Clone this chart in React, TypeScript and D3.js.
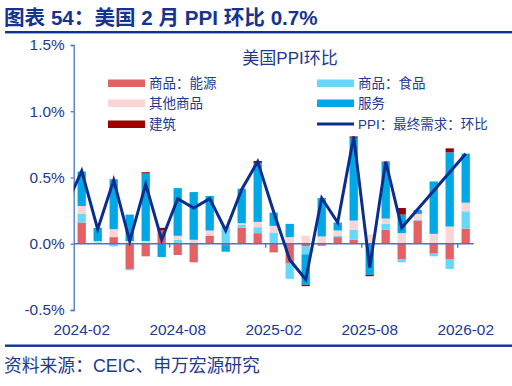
import React, { useEffect, useRef } from 'react';
import * as d3 from 'd3';

// 月份（2024-01 只给折线用，画在坐标轴左边之外，会被裁掉）
const lineMonths = ['2024-01', '2024-02', '2024-03', '2024-04', '2024-05', '2024-06', '2024-07', '2024-08', '2024-09', '2024-10', '2024-11', '2024-12',
    '2025-01', '2025-02', '2025-03', '2025-04', '2025-05', '2025-06', '2025-07', '2025-08', '2025-09', '2025-10', '2025-11', '2025-12',
    '2026-01', '2026-02'];
const months = lineMonths.slice(1);
const tickLabels = ['2024-02', '2024-08', '2025-02', '2025-08', '2026-02'];

// 分项拉动（百分点）
const energy = [0.16, 0.00, 0.05, -0.19, -0.095, 0.10, -0.085, -0.14, 0.06, -0.01, 0.12, 0.08, -0.065, -0.15, -0.02, -0.015, 0.05, 0.03, 0.00, 0.105, -0.115, 0.175, -0.075, -0.115, 0.115];
const food = [0.065, 0.01, -0.02, -0.01, 0.01, 0.00, 0.03, 0.01, 0.00, 0.13, 0.025, 0.045, 0.085, -0.115, -0.06, 0.00, 0.01, 0.075, 0.00, 0.045, -0.025, 0.005, -0.02, -0.075, 0.13];
const otherGoods = [0.06, 0.01, 0.06, 0.02, 0.01, 0.00, 0.03, 0.02, 0.04, 0.00, 0.01, 0.04, 0.05, 0.05, 0.06, 0.055, 0.04, 0.07, 0.07, 0.04, 0.08, 0.045, 0.075, 0.13, 0.065];
const services = [0.26, 0.10, 0.37, 0.20, 0.51, -0.10, 0.36, 0.36, 0.26, -0.05, 0.26, 0.445, 0.10, 0.10, -0.23, 0.29, 0.06, 0.625, -0.235, 0.425, 0.14, 0.03, 0.395, 0.56, 0.37];
const construction = [0, 0, 0.005, 0, 0.01, 0.02, 0, 0, 0, 0, 0, 0.015, 0, 0, -0.01, 0, 0, 0.01, -0.01, 0.005, 0.05, 0, 0, 0.03, 0];
// PPI：最终需求：环比（%），空值处直接连线
const ppi = [0.28, 0.55, 0.11, 0.48, 0.02, 0.45, 0.03, 0.34, 0.27, 0.34, 0.10, 0.41, 0.62, 0.24, -0.12, -0.27, 0.345, 0.16, 0.81, -0.18, 0.62, 0.12, null, null, null, 0.68];

const yTicks = [-0.5, 0, 0.5, 1.0, 1.5];

const seriesDefs = [
    { key: 'energy', name: '商品：能源', color: '#E46264', values: energy },
    { key: 'food', name: '商品：食品', color: '#66D8FA', values: food },
    { key: 'other', name: '其他商品', color: '#F9D5D6', values: otherGoods },
    { key: 'services', name: '服务', color: '#00A8E6', values: services },
    { key: 'construction', name: '建筑', color: '#9E0000', values: construction }
];

const NAVY = '#0B2E8E';
const TEXT = '#1E3A90';
const AXIS = '#4A74C9';
const FONT = '"Liberation Sans", "Noto Sans CJK SC", sans-serif';

const W = 512, H = 386;
const plot = { left: 73.7, right: 473.7, top: 45, bottom: 310 };

export default function App() {
    const yAxisRef = useRef<SVGGElement>(null);

    const step = (plot.right - plot.left) / months.length;
    const x = d3.scaleBand<string>()
        .domain(lineMonths)
        .range([plot.left - step, plot.right])
        .paddingInner(0.48)
        .paddingOuter(0.24);
    const cx = (m: string) => (x(m) as number) + x.bandwidth() / 2;
    const y = d3.scaleLinear().domain([-0.5, 1.5]).range([plot.bottom, plot.top]);

    const table = months.map((m, i) => {
        const row: any = { month: m };
        seriesDefs.forEach(s => { row[s.key] = s.values[i]; });
        return row;
    });
    const stacked = d3.stack<any>()
        .keys(seriesDefs.map(s => s.key))
        .offset(d3.stackOffsetDiverging)(table);

    const lineData = lineMonths.map((m, i) => ({ m, v: ppi[i] })).filter(d => d.v !== null);
    const linePath = d3.line<any>().x(d => cx(d.m)).y(d => y(d.v))(lineData);

    useEffect(() => {
        const g = d3.select(yAxisRef.current);
        g.call(d3.axisLeft(y).tickValues(yTicks).tickSize(3).tickPadding(6)
            .tickFormat(d => (d as number).toFixed(1) + '%'));
        g.select('.domain').attr('stroke', AXIS).attr('stroke-width', 1.3);
        g.selectAll('.tick line').attr('stroke', AXIS).attr('stroke-width', 1.3);
        g.selectAll('.tick text').attr('fill', TEXT).attr('font-size', 15.4).attr('font-family', FONT);
    }, []);

    const boundaryTicks = tickLabels.slice(1).map(m => (x(m) as number) - (step - x.bandwidth()) / 2);

    const legendLeft = [seriesDefs[0], seriesDefs[2], seriesDefs[4]];
    const legendRight = [seriesDefs[1], seriesDefs[3]];
    const legendRows = [83, 103, 124];

    return (
        <div style={{ position: 'absolute', left: 0, top: 0 }}>
            <svg width={W} height={H} style={{ display: 'block', background: '#fff' }} fontFamily={FONT}>
                <text x={4} y={25} fontSize={20.6} fontWeight="bold" fill="#16338F">图表 54：美国 2 月 PPI 环比 0.7%</text>
                <rect x={5} y={31} width={W - 5} height={2.4} fill="#0B3595" />

                <defs>
                    <clipPath id="plotClip">
                        <rect x={plot.left} y={0} width={plot.right - plot.left + 10} height={H} />
                    </clipPath>
                </defs>

                <text x={290} y={64} textAnchor="middle" fontSize={17} fill={TEXT}>美国PPI环比</text>

                {stacked.map((layer, li) => (
                    <g key={layer.key} fill={seriesDefs[li].color}>
                        {layer.map((d, i) => (
                            <rect key={i}
                                x={x(months[i])}
                                width={x.bandwidth()}
                                y={y(Math.max(d[0], d[1]))}
                                height={Math.abs(y(d[0]) - y(d[1]))} />
                        ))}
                    </g>
                ))}

                {/* x axis at zero */}
                <line x1={plot.left} x2={plot.right} y1={y(0)} y2={y(0)} stroke={AXIS} strokeWidth={1.5} />
                {boundaryTicks.map((tx, i) => (
                    <line key={i} x1={tx} x2={tx} y1={y(0)} y2={y(0) + 4} stroke={AXIS} strokeWidth={1.3} />
                ))}
                {tickLabels.map(m => (
                    <text key={m} x={cx(m)} y={334.5} textAnchor="middle" fontSize={15.4} fill={TEXT}>{m}</text>
                ))}

                <g ref={yAxisRef} transform={`translate(${plot.left},0)`} />

                <path d={linePath || ''} fill="none" stroke={NAVY} strokeWidth={3} clipPath="url(#plotClip)" />

                {legendLeft.map((s, i) => (
                    <g key={s.key}>
                        <rect x={108} y={legendRows[i] - 3.5} width={37} height={7.5} fill={s.color} />
                        <text x={149} y={legendRows[i] + 5} fontSize={13.5} fill={TEXT}>{s.name}</text>
                    </g>
                ))}
                {legendRight.map((s, i) => (
                    <g key={s.key}>
                        <rect x={317} y={legendRows[i] - 3.5} width={37} height={7.5} fill={s.color} />
                        <text x={358} y={legendRows[i] + 5} fontSize={13.5} fill={TEXT}>{s.name}</text>
                    </g>
                ))}
                <line x1={317} x2={354} y1={legendRows[2]} y2={legendRows[2]} stroke={NAVY} strokeWidth={3} />
                <text x={358} y={legendRows[2] + 5} fontSize={13.5} fill={TEXT}>PPI：最终需求：环比</text>

                <rect x={5} y={344.5} width={W - 5} height={2.4} fill="#0B3595" />
                <text x={4} y={372} fontSize={17.8} fill={TEXT}>资料来源：CEIC、申万宏源研究</text>
            </svg>
        </div>
    );
}
